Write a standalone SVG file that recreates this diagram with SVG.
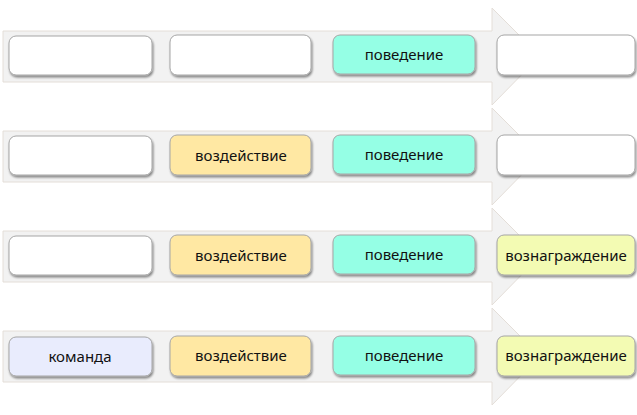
<svg xmlns="http://www.w3.org/2000/svg" width="637" height="415" viewBox="0 0 637 415">
<style>
.arrow{fill:#f2f2f2;stroke:#e4ded8;stroke-width:1}
.box{stroke:#a6a6a6;stroke-width:1;filter:url(#sh)}
.w{fill:#ffffff}
.y{fill:#ffe8a3}
.t{fill:#95ffe5}
.g{fill:#f3fbb3}
.l{fill:#e9ecfd}
.lbl{font-family:"Noto Sans","Open Sans",sans-serif;font-size:15px;fill:#111;text-anchor:middle;dominant-baseline:central}
</style>
<defs>
<filter id="sh" x="-10%" y="-20%" width="120%" height="150%">
<feGaussianBlur in="SourceAlpha" stdDeviation="1"/>
<feOffset dx="0.5" dy="1.5" result="b"/>
<feComponentTransfer><feFuncA type="linear" slope="0.45"/></feComponentTransfer>
<feMerge><feMergeNode/><feMergeNode in="SourceGraphic"/></feMerge>
</filter>
<polygon id="arr" points="3,31 492,31 492,8 540,56 492,105 492,82 3,82"/>
</defs>
<g id="connectors">
<use href="#arr" class="arrow"/>
<use href="#arr" class="arrow" y="100"/>
<use href="#arr" class="arrow" y="200"/>
<use href="#arr" class="arrow" y="300"/>
</g>
<g id="r1n1"><rect class="box w" x="9" y="36" width="143" height="39" rx="7"/></g>
<g id="r1n2"><rect class="box w" x="170" y="35" width="141" height="40" rx="7"/></g>
<g id="r1n3"><rect class="box t" x="333" y="35" width="142" height="39" rx="7"/><text class="lbl" x="404" y="54">поведение</text></g>
<g id="r1n4"><rect class="box w" x="497" y="35" width="138" height="40" rx="7"/></g>

<g id="r2n1"><rect class="box w" x="9" y="136" width="143" height="39" rx="7"/></g>
<g id="r2n2"><rect class="box y" x="170" y="135" width="141" height="40" rx="7"/><text class="lbl" x="241" y="155">воздействие</text></g>
<g id="r2n3"><rect class="box t" x="333" y="135" width="142" height="39" rx="7"/><text class="lbl" x="404" y="154">поведение</text></g>
<g id="r2n4"><rect class="box w" x="497" y="135" width="138" height="40" rx="7"/></g>

<g id="r3n1"><rect class="box w" x="9" y="236" width="143" height="39" rx="7"/></g>
<g id="r3n2"><rect class="box y" x="170" y="235" width="141" height="40" rx="7"/><text class="lbl" x="241" y="255">воздействие</text></g>
<g id="r3n3"><rect class="box t" x="333" y="235" width="142" height="39" rx="7"/><text class="lbl" x="404" y="254">поведение</text></g>
<g id="r3n4"><rect class="box g" x="497" y="235" width="138" height="40" rx="7"/><text class="lbl" x="566" y="255">вознаграждение</text></g>

<g id="r4n1"><rect class="box l" x="9" y="337" width="143" height="39" rx="7"/><text class="lbl" x="80" y="356">команда</text></g>
<g id="r4n2"><rect class="box y" x="170" y="336" width="141" height="40" rx="7"/><text class="lbl" x="241" y="355">воздействие</text></g>
<g id="r4n3"><rect class="box t" x="333" y="336" width="142" height="39" rx="7"/><text class="lbl" x="404" y="355">поведение</text></g>
<g id="r4n4"><rect class="box g" x="497" y="336" width="138" height="40" rx="7"/><text class="lbl" x="566" y="355">вознаграждение</text></g>
</svg>
